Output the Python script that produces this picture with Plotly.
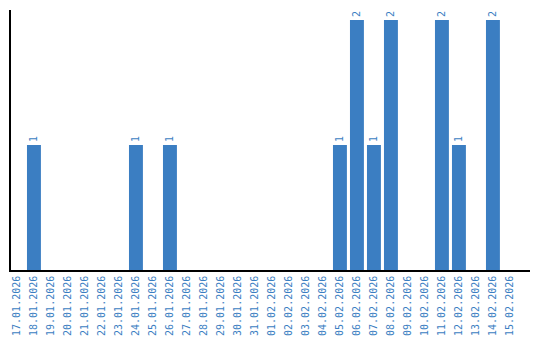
import plotly.graph_objects as go

dates = ["17.01.2026","18.01.2026","19.01.2026","20.01.2026","21.01.2026","22.01.2026",
         "23.01.2026","24.01.2026","25.01.2026","26.01.2026","27.01.2026","28.01.2026",
         "29.01.2026","30.01.2026","31.01.2026","01.02.2026","02.02.2026","03.02.2026",
         "04.02.2026","05.02.2026","06.02.2026","07.02.2026","08.02.2026","09.02.2026",
         "10.02.2026","11.02.2026","12.02.2026","13.02.2026","14.02.2026","15.02.2026"]
counts = [0,1,0,0,0,0,0,1,0,1,0,0,0,0,0,0,0,0,0,1,2,1,2,0,0,2,1,0,2,0]

color = "#3b7ec2"
labels = [str(c) if c > 0 else "" for c in counts]

fig = go.Figure(go.Bar(
    x=dates, y=counts, marker_color=color, marker_line_width=0,
    text=labels, textposition="outside", textangle=-90,
    textfont=dict(family="DejaVu Sans Mono", size=10, color=color),
    cliponaxis=False,
))
fig.update_layout(
    width=540, height=340,
    margin=dict(l=11, r=10, t=10, b=70, autoexpand=False),
    paper_bgcolor="white", plot_bgcolor="white",
    bargap=0.18, showlegend=False,
    font=dict(family="DejaVu Sans Mono", size=10, color=color),
)
fig.update_xaxes(type="category", tickangle=-90, showline=True, linecolor="black",
                 linewidth=1.5, showgrid=False, ticks="", automargin=False,
                 range=[-0.35, 30.18], tickfont=dict(size=10, color=color))
fig.update_yaxes(range=[0, 2.08], showline=True, linecolor="black", linewidth=1.5,
                 showgrid=False, showticklabels=False, ticks="", zeroline=False,
                 automargin=False)
fig.write_html("out.html")
